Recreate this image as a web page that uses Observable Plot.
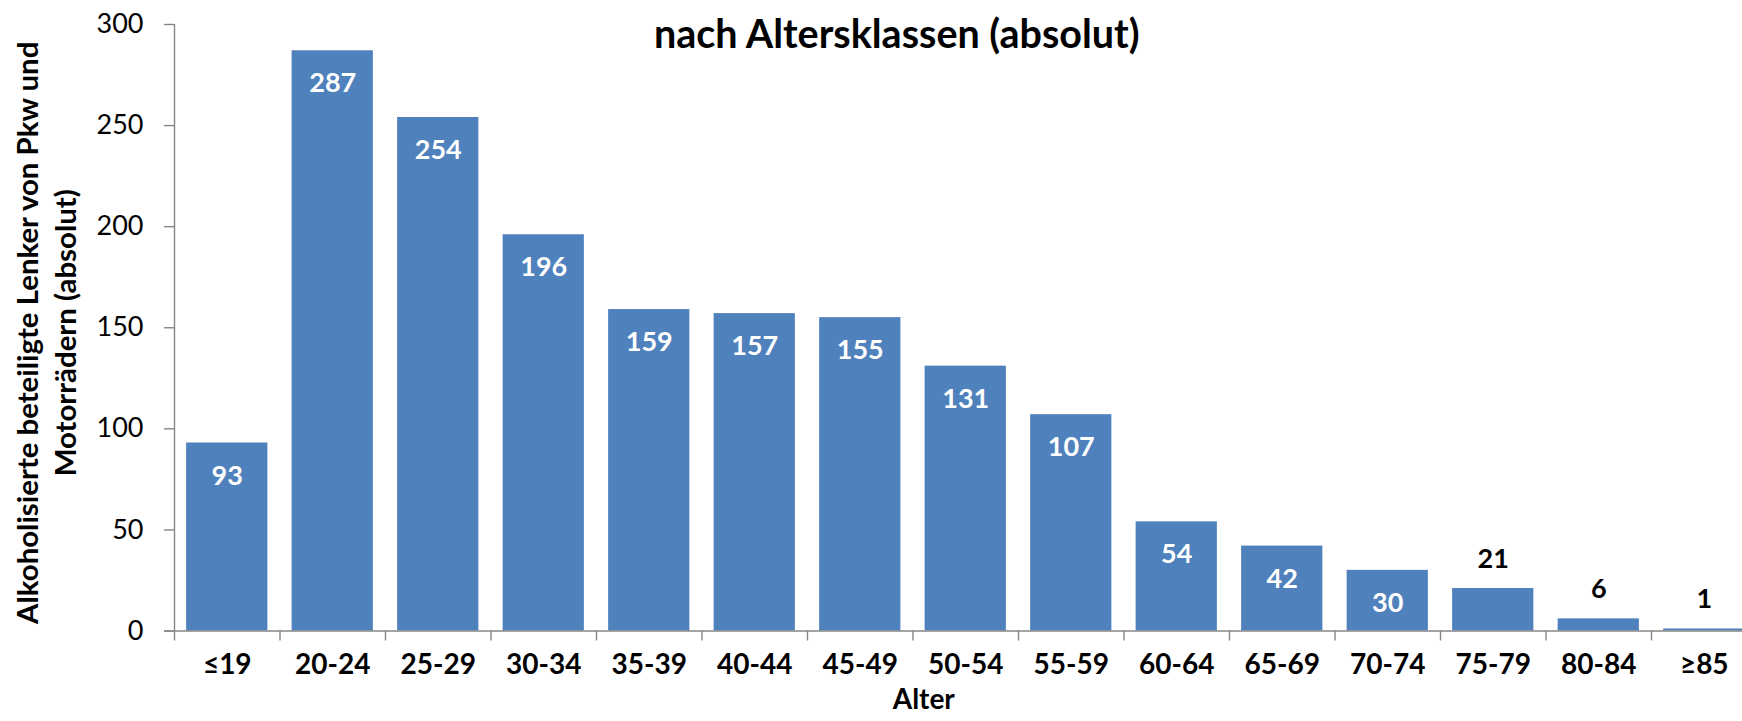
<!DOCTYPE html>
<html>
<head>
<meta charset="utf-8">
<script src="https://cdn.jsdelivr.net/npm/d3@7"></script>
<script src="https://cdn.jsdelivr.net/npm/@observablehq/plot@0.6"></script>
<style>
  html, body { margin: 0; padding: 0; background: #fff; overflow: hidden; }
  #chart { width: 1742px; height: 721px; }
</style>
</head>
<body>
<div id="chart"></div>
<script>
const categories = ["≤19","20-24","25-29","30-34","35-39","40-44","45-49","50-54","55-59","60-64","65-69","70-74","75-79","80-84","≥85"];
const values = [93,287,254,196,159,157,155,131,107,54,42,30,21,6,1];
const yTicks = [0,50,100,150,200,250,300];
const titleText = "nach Altersklassen (absolut)";
const yLabelLines = ["Alkoholisierte beteiligte Lenker von Pkw und", "Motorrädern (absolut)"];
const xLabelText = "Alter";

const data = categories.map((c, i) => ({cat: c, value: values[i]}));
const inside = data.filter(d => d.value >= 30);
const outside = data.filter(d => d.value < 30);

const W = 1742, H = 721;
const mL = 174, mR = -14.5, mT = 24, mB = 90.5;
const step = (W - mL - mR) / categories.length;
const axisColor = "#868686";
const barColor = "#4F81BD";

const plot = Plot.plot({
  width: W,
  height: H,
  marginLeft: mL,
  marginRight: mR,
  marginTop: mT,
  marginBottom: mB,
  style: {fontFamily: "Lato, 'Open Sans', sans-serif", background: "#fff", color: "#000"},
  x: {type: "band", domain: categories, paddingInner: 0.23, paddingOuter: 0.115, round: false, axis: null},
  y: {domain: [0, 300], axis: null},
  marks: [
    Plot.barY(data, {x: "cat", y: "value", fill: barColor}),
    // x axis line
    Plot.ruleY([0], {stroke: axisColor, strokeWidth: 1.4, insetLeft: -10}),
    // y axis line
    Plot.ruleX([categories[0]], {x: d => d, dx: -step / 2, y1: 0, y2: 300, stroke: axisColor, strokeWidth: 1.4}),
    // x boundary ticks
    Plot.ruleX(categories, {x: d => d, dx: -step / 2, y1: 0, y2: 0, insetBottom: -10, stroke: axisColor, strokeWidth: 1.4}),
    // y axis ticks and labels
    Plot.axisY({ticks: yTicks, tickSize: 10, tickPadding: 21, stroke: axisColor, strokeWidth: 1.4, fill: "#000", fontSize: 27, tickFormat: d => String(d), label: null}),
    // x category labels
    Plot.text(categories, {x: d => d, frameAnchor: "bottom", dy: 43, text: d => d, fontSize: 28, fontWeight: "bold", fill: "#000"}),
    // value labels
    Plot.text(inside, {x: "cat", y: "value", text: d => String(d.value), dy: 33, fill: "#fff", fontSize: 27, fontWeight: "bold"}),
    Plot.text(outside, {x: "cat", y: "value", text: d => String(d.value), dy: -29.5, fill: "#000", fontSize: 27, fontWeight: "bold"}),
    // x axis title
    Plot.text([xLabelText], {frameAnchor: "bottom", dx: -42, dy: 77.5, text: d => d, fontSize: 28, fontWeight: "bold", fill: "#000"}),
    // y axis title
    Plot.text([yLabelLines.join("\n")], {frameAnchor: "left", textAnchor: "middle", dx: 44 - mL, dy: 5, rotate: -90, text: d => d, fontSize: 29.4, fontWeight: "bold", lineHeight: 1.3, fill: "#000"}),
    // title
    Plot.text([titleText], {frameAnchor: "top", dx: -69, dy: -5, text: d => d, fontSize: 39.5, fontWeight: "bold", fill: "#000"})
  ]
});

document.getElementById("chart").appendChild(plot);
</script>
</body>
</html>
